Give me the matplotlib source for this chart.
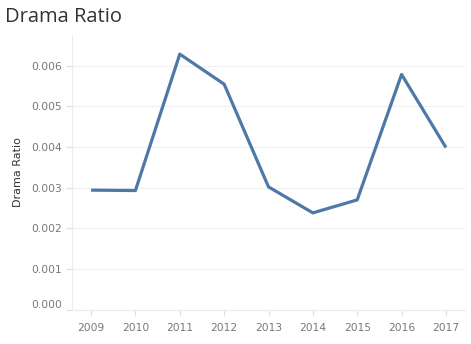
import matplotlib.pyplot as plt
import numpy as np

years = [2009, 2010, 2011, 2012, 2013, 2014, 2015, 2016, 2017]
drama_ratio = [0.00294, 0.00293, 0.00629, 0.00555, 0.00302, 0.00238, 0.00270, 0.00579, 0.00399]
y_ticks = [0.000, 0.001, 0.002, 0.003, 0.004, 0.005, 0.006]

plt.rcParams['font.family'] = ['DejaVu Sans']

fig = plt.figure(figsize=(4.71, 3.44), dpi=100)
ax = fig.add_axes([72 / 471, 1 - 309.5 / 344, (465 - 72) / 471, (309.5 - 35) / 344])

ax.plot(years, drama_ratio, color='#4e79a7', linewidth=2.3, solid_capstyle='butt')

ax.set_xlim(2008.57, 2017.43)
ax.set_ylim(0, (309.5 - 35) / 40.6 * 0.001)
ax.set_xticks(years)
ax.set_xticklabels([str(y) for y in years])
ax.set_yticks(y_ticks)
ax.set_yticklabels([f'{v:.3f}' for v in y_ticks])

ax.grid(axis='y', color='#efefef', linewidth=0.8)
ax.set_axisbelow(True)
for side in ['top', 'right']:
    ax.spines[side].set_visible(False)
ax.spines['left'].set_color('#ececec')
ax.spines['bottom'].set_color('#ececec')

ax.tick_params(axis='both', colors='#e0e0e0', labelcolor='#777777', labelsize=7.7, length=4, width=0.8)
ax.tick_params(axis='x', pad=6)
ax.tick_params(axis='y', pad=3)
# keep the zero label clear of the bottom axis line
ax.get_yticklabels()[0].set_va('bottom')
ax.get_yticklabels()[0].set_y(0)

ax.set_ylabel('Drama Ratio', fontsize=8, color='#333333', labelpad=6)
fig.text(5 / 471, 1 - 17 / 344, 'Drama Ratio', fontsize=14.5, color='#333333',
         va='center', ha='left', family=['Open Sans', 'DejaVu Sans'])

fig.savefig('out.png', dpi=100)
